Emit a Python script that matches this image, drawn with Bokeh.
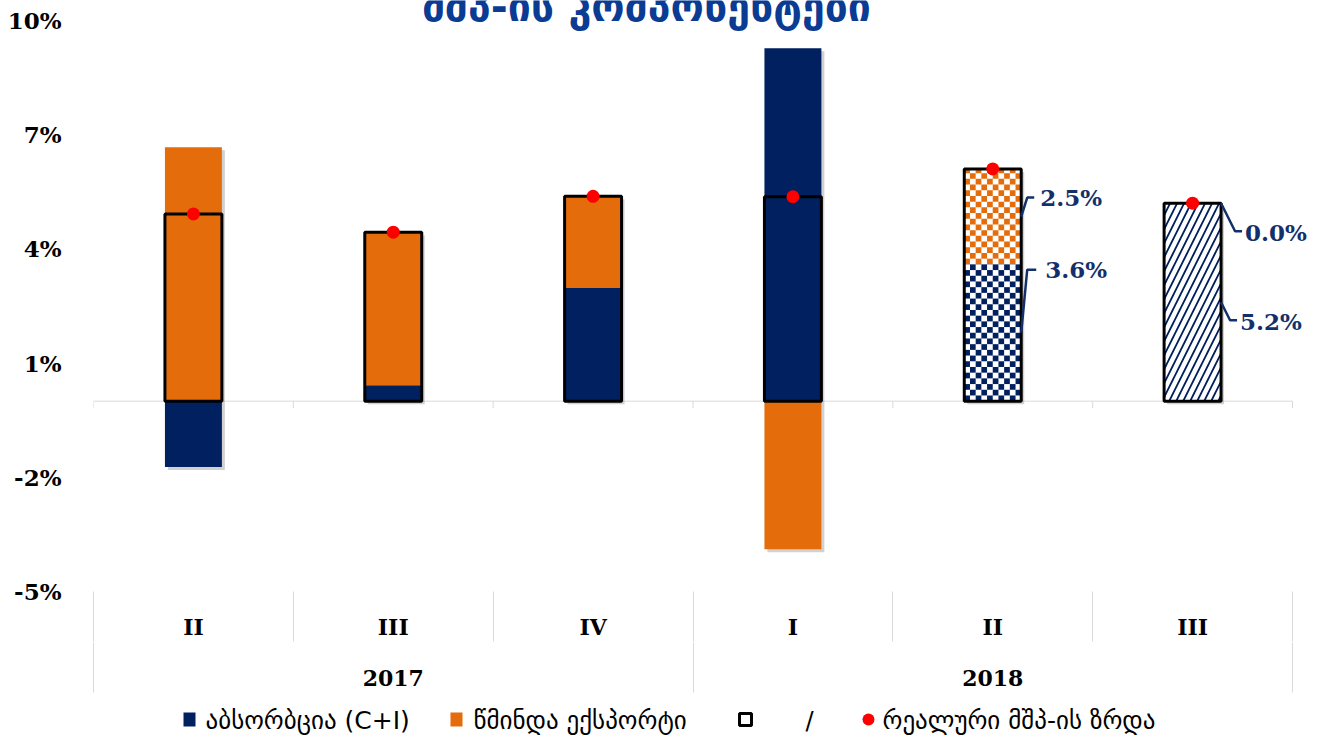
import numpy as np
from bokeh.plotting import figure
from bokeh.layouts import column
from bokeh.models import Range1d, LinearAxis, FixedTicker, ColumnDataSource
from bokeh.core.properties import value
from bokeh.embed import file_html
from bokeh.resources import INLINE

# ---------------- data ----------------
quarters = ["II", "III", "IV", "I", "II", "III"]
years = ["2017", "2018"]
year_sizes = [3, 3]
absorption = [-1.73, 0.42, 2.97, 9.27, 3.6, 5.2]     # C+I contribution, pp
net_exports = [6.67, 4.02, 2.41, -3.89, 2.5, 0.0]    # net exports contribution, pp
gdp_growth = [4.92, 4.44, 5.38, 5.37, 6.1, 5.2]      # real GDP growth, %
bar_style = ["solid", "solid", "solid", "solid", "checker", "diagonal"]
y_ticks = [-5, -2, 1, 4, 7, 10]
title_text = "მშპ-ის კომპონენტები"
legend_labels = ["აბსორბცია (C+I)", "წმინდა ექსპორტი", "", "/",
                 "რეალური მშპ-ის ზრდა"]

# ---------------- style / layout ----------------
NAVY = "#002060"
ORANGE = "#E46C0A"
RED = "#FF0000"
TITLE_BLUE = "#0B3C94"
LABEL_NAVY = "#13306B"
SEP = "#D9D9D9"
SHADOW = "#9A9A9A"
SERIF = "DejaVu Serif"
GEO = "DejaVu Sans"

W = 1322
H1, H2 = 705, 30
BL, BR, BT = 93, 0, 0
FRAME_H = 591
BB = H1 - BT - FRAME_H
n = len(quarters)
PXX = 1199.0 / n                 # px per category
PXY = 571.0 / 15.0               # px per percentage point
Y0 = -5.0
Y1 = Y0 + FRAME_H / PXY
X1 = (W - BL - BR) / PXX
BAR_W = 0.285
CELL = 5.7                       # checker cell size, px
SH = 3                           # shadow offset, px

x = np.arange(n) + 0.5
absn = np.array(absorption)
nxa = np.array(net_exports)
same_sign = ((absn > 0) & (nxa >= 0)) | ((absn < 0) & (nxa < 0))
nx_bottom = np.where(same_sign, absn, 0.0)
nx_top = nx_bottom + nxa

pattern_map = {"solid": " ", "checker": " ", "diagonal": "right_diagonal_line"}
patterns = [pattern_map[s] for s in bar_style]

src = ColumnDataSource(dict(
    x=x, abs_top=absn, abs_bottom=np.zeros(n), nx_top=nx_top, nx_bottom=nx_bottom,
    gdp=gdp_growth, pattern=patterns,
    abs_fill=[NAVY if s == "solid" else "white" for s in bar_style],
    nx_fill=[ORANGE if s == "solid" else "white" for s in bar_style],
))

p = figure(width=W, height=H1, x_range=Range1d(0, X1), y_range=Range1d(Y0, Y1),
           x_axis_type=None, y_axis_type=None, toolbar_location=None,
           output_backend="svg", min_border_left=BL, min_border_right=BR,
           min_border_top=BT, min_border_bottom=BB, outline_line_color=None,
           background_fill_color="white", border_fill_color="white")

# zero line with small ticks at category boundaries
bounds = np.arange(n + 1)
p.segment(x0=[0], y0=[0], x1=[n], y1=[0], line_color=SEP, line_width=1)
p.segment(x0=bounds, y0=0, x1=bounds, y1=-7 / PXY, line_color=SEP, line_width=1)

# soft drop shadows behind the bars
lo_ext = np.minimum(np.minimum(0, absn), nx_bottom + np.minimum(0, nxa))
hi_ext = np.maximum(np.maximum(absn, nx_top), gdp_growth)
p.vbar(x=x + SH / PXX, width=BAR_W, top=hi_ext - SH / PXY, bottom=lo_ext - SH / PXY,
       fill_color=SHADOW, fill_alpha=0.45, line_color=None)

r_abs = p.vbar(x="x", width=BAR_W, top="abs_top", bottom="abs_bottom", source=src,
               fill_color="abs_fill", line_color=None, hatch_pattern="pattern",
               hatch_color=NAVY, hatch_scale=14, hatch_weight=1.8)
r_nx = p.vbar(x="x", width=BAR_W, top="nx_top", bottom="nx_bottom", source=src,
              fill_color="nx_fill", line_color=None, hatch_pattern="pattern",
              hatch_color=ORANGE, hatch_scale=14, hatch_weight=1.8)

# checkerboard fill for the checker-styled bars
def checker(xc, y0, y1):
    ncols = int(round(BAR_W * PXX / CELL))
    cw = BAR_W / ncols
    ch = CELL / PXY
    lo, hi = min(y0, y1), max(y0, y1)
    L, R, B, T = [], [], [], []
    for r in range(int(np.floor(lo / ch)), int(np.ceil(hi / ch))):
        b, t = max(r * ch, lo), min((r + 1) * ch, hi)
        if t <= b:
            continue
        for c in range(ncols):
            if (r + c) % 2 == 0:
                L.append(xc - BAR_W / 2 + c * cw)
                R.append(xc - BAR_W / 2 + (c + 1) * cw)
                B.append(b)
                T.append(t)
    return L, R, B, T

for i, s in enumerate(bar_style):
    if s != "checker":
        continue
    for bot, top, col in [(0.0, absn[i], NAVY), (nx_bottom[i], nx_top[i], ORANGE)]:
        L, R, B, T = checker(x[i], bot, top)
        p.quad(left=L, right=R, bottom=B, top=T, fill_color=col, line_color=None)

r_box = p.vbar(x="x", width=BAR_W, top="gdp", bottom=0, source=src,
               fill_color=None, line_color="black", line_width=3)
r_dot = p.scatter(x="x", y="gdp", source=src, size=13, fill_color=RED,
                  line_color=None)

# ----- data labels with leader lines for forecast bars -----
ann_idx = [4, 4, 5, 5]
ann_val = [net_exports[4], absorption[4], net_exports[5], absorption[5]]
ann_anchor = [(nx_bottom[4] + nx_top[4]) / 2, absn[4] / 2, nx_top[5], absn[5] / 2]
# (elbow dx, elbow dy, end dx, text dx, text dy) in screen px, dy downwards
ann_geom = [(6, -19, 13, 19, -19), (6, -63, 15, 24, -63),
            (14, 28, 21, 24, 29), (9, 18, 16, 19, 19)]
xs, ys, tx, ty, tt = [], [], [], [], []
for i, v, a, g in zip(ann_idx, ann_val, ann_anchor, ann_geom):
    ex, ey, endx, tdx, tdy = g
    x0 = x[i] + BAR_W / 2
    xs.append([x0, x0 + ex / PXX, x0 + endx / PXX])
    ys.append([a, a - ey / PXY, a - ey / PXY])
    tx.append(x0 + tdx / PXX)
    ty.append(a - tdy / PXY)
    tt.append(f"{v:.1f}%")
p.multi_line(xs=xs, ys=ys, line_color=LABEL_NAVY, line_width=2.5)
p.text(x=tx, y=ty, text=tt, text_font=value(SERIF), text_font_style="bold",
       text_font_size="23px", text_color=LABEL_NAVY, text_align="left",
       text_baseline="middle")

# title (partly cut off at the top, as in the original)
p.text(x=[(646 - BL) / PXX], y=[Y1 - 6 / PXY], text=[title_text],
       text_font=value(GEO), text_font_style="bold", text_font_size="41px",
       text_color=TITLE_BLUE, text_align="center", text_baseline="alphabetic")

# ----- axes -----
yax = LinearAxis(ticker=FixedTicker(ticks=y_ticks),
                 major_label_overrides={t: f"{t}%" for t in y_ticks},
                 axis_line_color=None, major_tick_line_color=None,
                 minor_tick_line_color=None, major_label_standoff=26,
                 major_label_text_font=SERIF, major_label_text_font_style="bold",
                 major_label_text_font_size="23px", major_label_text_color="black")
p.add_layout(yax, "left")

qax = LinearAxis(ticker=FixedTicker(ticks=[float(v) for v in x],
                                    minor_ticks=[float(b) for b in bounds]),
                 major_label_overrides={float(v): q for v, q in zip(x, quarters)},
                 axis_line_color=None, major_tick_line_color=None, major_tick_out=0,
                 major_tick_in=0, minor_tick_in=0, minor_tick_out=50,
                 minor_tick_line_color=SEP, major_label_standoff=-28,
                 major_label_text_font=SERIF, major_label_text_font_style="bold",
                 major_label_text_font_size="22px", major_label_text_color="black")
p.add_layout(qax, "below")

ybounds = np.concatenate([[0], np.cumsum(year_sizes)])
ycent = (ybounds[:-1] + ybounds[1:]) / 2
yrax = LinearAxis(ticker=FixedTicker(ticks=[float(v) for v in ycent],
                                     minor_ticks=[float(b) for b in ybounds]),
                  major_label_overrides={float(v): t for v, t in zip(ycent, years)},
                  axis_line_color=None, major_tick_line_color=None, major_tick_out=0,
                  major_tick_in=0, minor_tick_in=0, minor_tick_out=50,
                  minor_tick_line_color=SEP, major_label_standoff=-23,
                  major_label_text_font=SERIF, major_label_text_font_style="bold",
                  major_label_text_font_size="22px", major_label_text_color="black")
p.add_layout(yrax, "below")

# ----- legend (separate strip under the chart, page-pixel coordinates) -----
lg = figure(width=W, height=H2, x_range=Range1d(BL, W - BR), y_range=Range1d(0, H2),
            x_axis_type=None, y_axis_type=None, toolbar_location=None,
            output_backend="svg", min_border_left=BL, min_border_right=BR,
            min_border_top=0, min_border_bottom=0, outline_line_color=None,
            background_fill_color="white", border_fill_color="white")
LY = 16
lg.rect(x=[189, 456], y=LY, width=12, height=14, fill_color=[NAVY, ORANGE],
        line_color=None)
lg.rect(x=[745], y=LY, width=12, height=12, fill_color=None, line_color="black",
        line_width=3)
lg.scatter(x=[868], y=[LY], size=12, fill_color=RED, line_color=None)
lg.text(x=[205, 473, 882], y=LY - 1, text=[legend_labels[0], legend_labels[1],
                                            legend_labels[4]],
        text_font=value(GEO), text_font_size="25px", text_color="black",
        text_align="left", text_baseline="middle")
lg.text(x=[809], y=[LY - 1], text=[legend_labels[3]], text_font=value(GEO),
        text_font_size="24px", text_color="black", text_align="center",
        text_baseline="middle")

layout = column(p, lg, spacing=0)
open("out.html", "w").write(file_html(layout, INLINE))
